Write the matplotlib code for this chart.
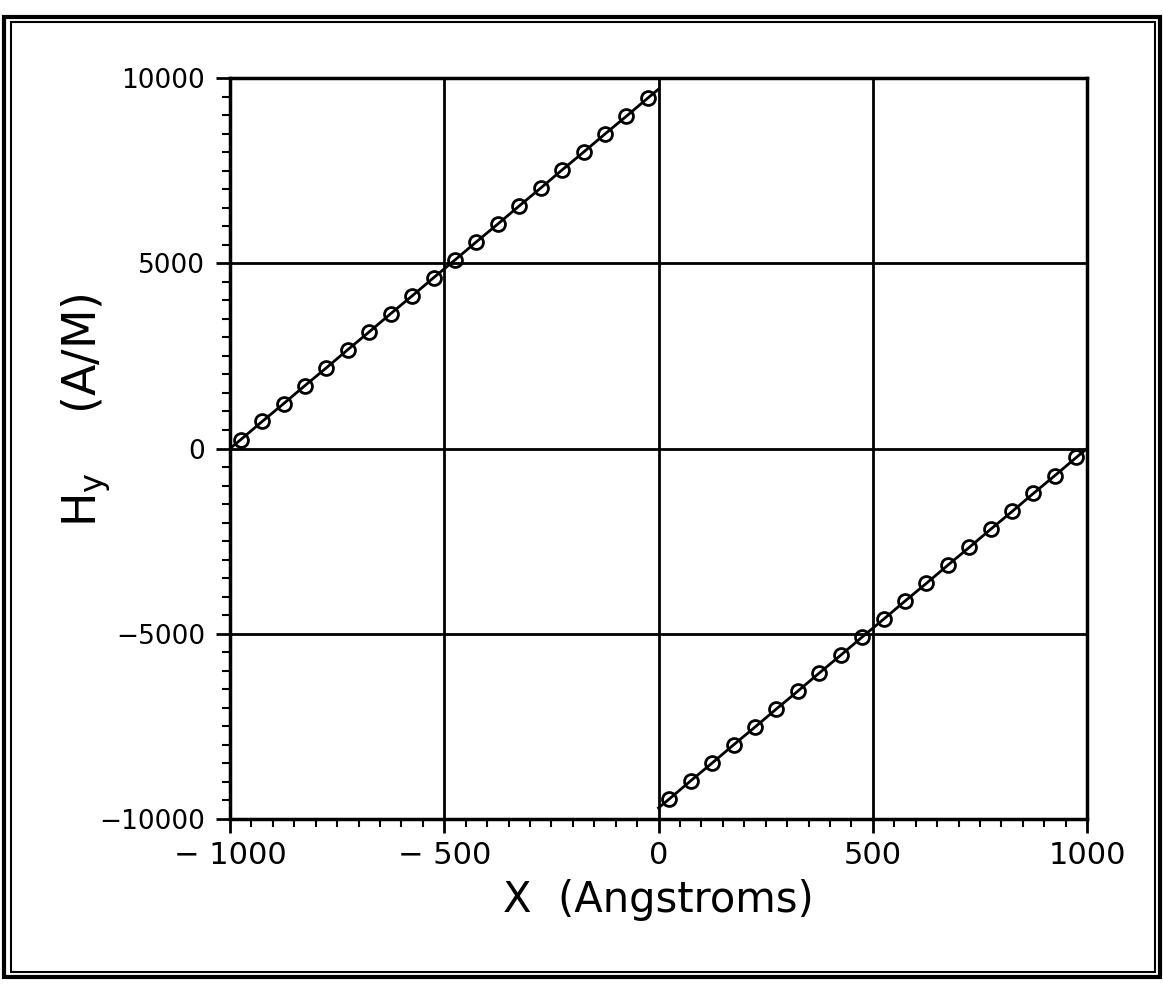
import matplotlib
matplotlib.use('Agg')
import matplotlib.pyplot as plt
from matplotlib.ticker import MultipleLocator
from matplotlib.patches import Rectangle

# left branch (x < 0): line ends at the axes, markers every 50 A
x_left = [-1000, -975, -925, -875, -825, -775, -725, -675, -625, -575, -525,
          -475, -425, -375, -325, -275, -225, -175, -125, -75, -25, 0]
hy_left = [0, 240, 730, 1210, 1700, 2180, 2670, 3150, 3640, 4120, 4610,
           5090, 5580, 6060, 6550, 7030, 7520, 8000, 8490, 8970, 9460, 9700]

# right branch (x > 0)
x_right = [0, 25, 75, 125, 175, 225, 275, 325, 375, 425, 475,
           525, 575, 625, 675, 725, 775, 825, 875, 925, 975, 1000]
hy_right = [-9700, -9460, -8970, -8490, -8000, -7520, -7030, -6550, -6060, -5580, -5090,
            -4610, -4120, -3640, -3150, -2670, -2180, -1700, -1210, -730, -240, 0]

fig = plt.figure(figsize=(11.63, 9.84), dpi=100)
ax = fig.add_axes([0.1978, 0.1677, 0.7369, 0.753])

for xs, ys in [(x_left, hy_left), (x_right, hy_right)]:
    ax.plot(xs, ys, color='black', lw=2, marker='o', ms=10, mfc='none',
            mec='black', mew=2, markevery=slice(1, -1), zorder=3)

ax.set_xlim(-1000, 1000)
ax.set_ylim(-10000, 10000)
ax.xaxis.set_major_locator(MultipleLocator(500))
ax.xaxis.set_minor_locator(MultipleLocator(50))
ax.yaxis.set_major_locator(MultipleLocator(5000))
ax.yaxis.set_minor_locator(MultipleLocator(500))
ax.grid(True, which='major', color='black', lw=2)
for s in ax.spines.values():
    s.set_linewidth(2.5)
ax.tick_params(which='major', direction='out', length=10, width=2, labelsize=19, pad=8)
ax.tick_params(which='minor', direction='out', length=6, width=1.5)
ax.tick_params(axis='x', which='major', labelsize=22, pad=6)
ax.set_xticks([-1000, -500, 0, 500, 1000])
ax.set_xticklabels(['\u2212 1000', '\u2212 500', '0', '500', '1000'])
ax.set_yticks([-10000, -5000, 0, 5000, 10000])
ax.set_yticklabels(['\u221210000', '\u22125000', '0', '5000', '10000'])

ax.set_xlabel('X  (Angstroms)', fontsize=30, labelpad=6)
ax.set_ylabel('H$_\\mathregular{y}$    (A/M)', fontsize=33)
ax.yaxis.set_label_coords(-0.136, 0.552)

# double frame around the page
fig.patches.append(Rectangle((4 / 1163, 7 / 984), 1156 / 1163, 960 / 984,
                             transform=fig.transFigure, fill=False, lw=3, ec='black'))
fig.patches.append(Rectangle((11 / 1163, 12 / 984), 1144 / 1163, 950 / 984,
                             transform=fig.transFigure, fill=False, lw=1.5, ec='black'))

fig.savefig('out.png', dpi=100)
